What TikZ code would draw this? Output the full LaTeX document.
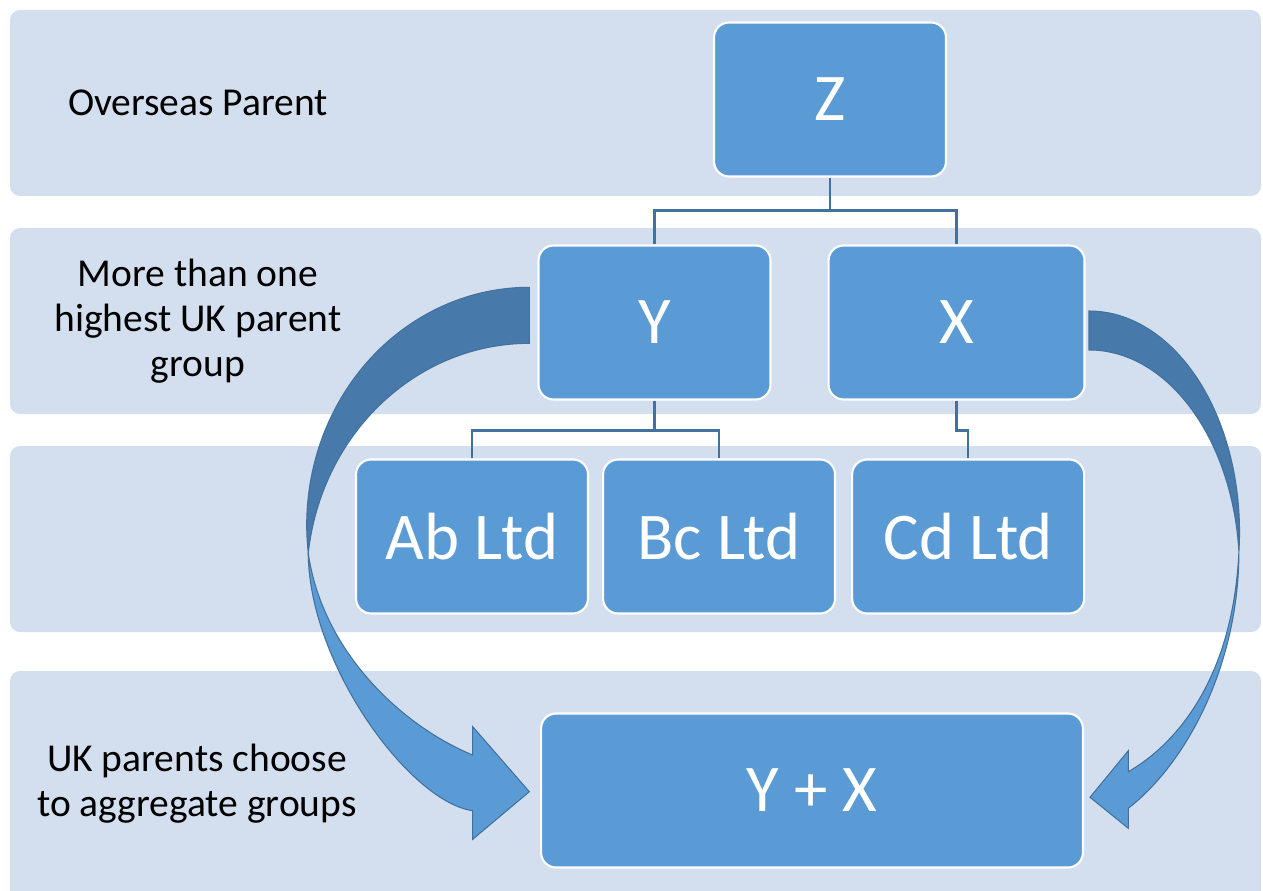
\documentclass[tikz,border=0pt]{standalone}
\usepackage{fontspec}
\setmainfont{Carlito}
\usepackage{xcolor}
\usepackage{tikz}
\usetikzlibrary{positioning}
\definecolor{bandblue}{HTML}{D3DEEF}
\definecolor{boxblue}{HTML}{5B9BD5}
\definecolor{lineblue}{HTML}{41719C}
\definecolor{backblue}{HTML}{477AAB}
\tikzset{
  band/.style={fill=bandblue,rounded corners=0.2cm},
  box/.style={
    draw=white,line width=1.2pt,fill=boxblue,rounded corners=0.3cm,text=white,
    minimum width=4.64cm,minimum height=3.08cm,font=\fontsize{38}{44}\selectfont
  },
  link/.style={draw=lineblue,line width=1.4pt},
  lbl/.style={align=center,font=\fontsize{22.5}{25.5}\selectfont},
  arrback/.style={fill=backblue,draw=lineblue,line width=0.6pt},
  arrfront/.style={fill=boxblue,draw=lineblue,line width=0.6pt},
}
\begin{document}
\begin{tikzpicture}[x=0.02cm,y=0.02cm]
			\clip (0,0) rectangle (1263,890);
			\fill[band] (10,694) rectangle (1261,880);
			\fill[band] (10,476) rectangle (1261,662);
			\fill[band] (10,258) rectangle (1261,444);
			\fill[band] (10,-20) rectangle (1261,219);
			\filldraw[arrfront] (308.2,337) .. controls (309,225) and (410,88) .. (472.7,79.3) -- (472.7,50.7) -- (529.3,98.3) -- (472.7,163.3) -- (472.7,135) .. controls (400,165) and (322,240) .. (308.2,337) -- cycle;
			\filldraw[arrback] (529.3,602.7) arc[start angle=90,end angle=186.77,x radius=222.6,y radius=237.7] arc[start angle=173.23,end angle=90,x radius=222.6,y radius=237.7] -- cycle;
			\filldraw[arrfront] (1238.9,338.5) .. controls (1239,230) and (1190,130) .. (1128.3,81.7) -- (1128.3,61.7) -- (1090,92.7) -- (1128.3,139.3) -- (1128.3,118.3) .. controls (1175,145) and (1233,210) .. (1238.9,338.5) -- cycle;
			\filldraw[arrback] (1089,579) arc[start angle=90,end angle=-5.06,x radius=150.5,y radius=221] arc[start angle=5.06,end angle=90,x radius=150.5,y radius=221] -- cycle;
			\node[lbl] (lbltop) at (198,787) {Overseas Parent};
			\node[lbl] (lblmid) at (198,569) {More than one\\highest UK parent\\group};
			\node[lbl] (lblbot) at (197,106) {UK parents choose\\to aggregate groups};
			\node[box] (z) at (830,790.5) {Z};
			\node[box] (y) at (654.5,567.5) {Y};
			\node[box,minimum width=5.12cm] (x) [right=1.12cm of y] {X};
			\node[box] (ab) at (472,353.5) {Ab Ltd};
			\node[box] (bc) [right=0.26cm of ab] {Bc Ltd};
			\node[box] (cd) [right=0.3cm of bc] {Cd Ltd};
			\node[box,minimum width=10.84cm] (yx) at (812,99.5) {Y + X};
			\draw[link] (z.south) -- ++(0,-33) coordinate (zsplit);
			\draw[link] (y.north) |- (zsplit) -| (x.north);
			\draw[link] (y.south) -- ++(0,-30) coordinate (ysplit);
			\draw[link] (ab.north) |- (ysplit) -| (bc.north);
			\draw[link] (x.south) -- ++(0,-30) -| (cd.north);
		\end{tikzpicture}
\end{document}
